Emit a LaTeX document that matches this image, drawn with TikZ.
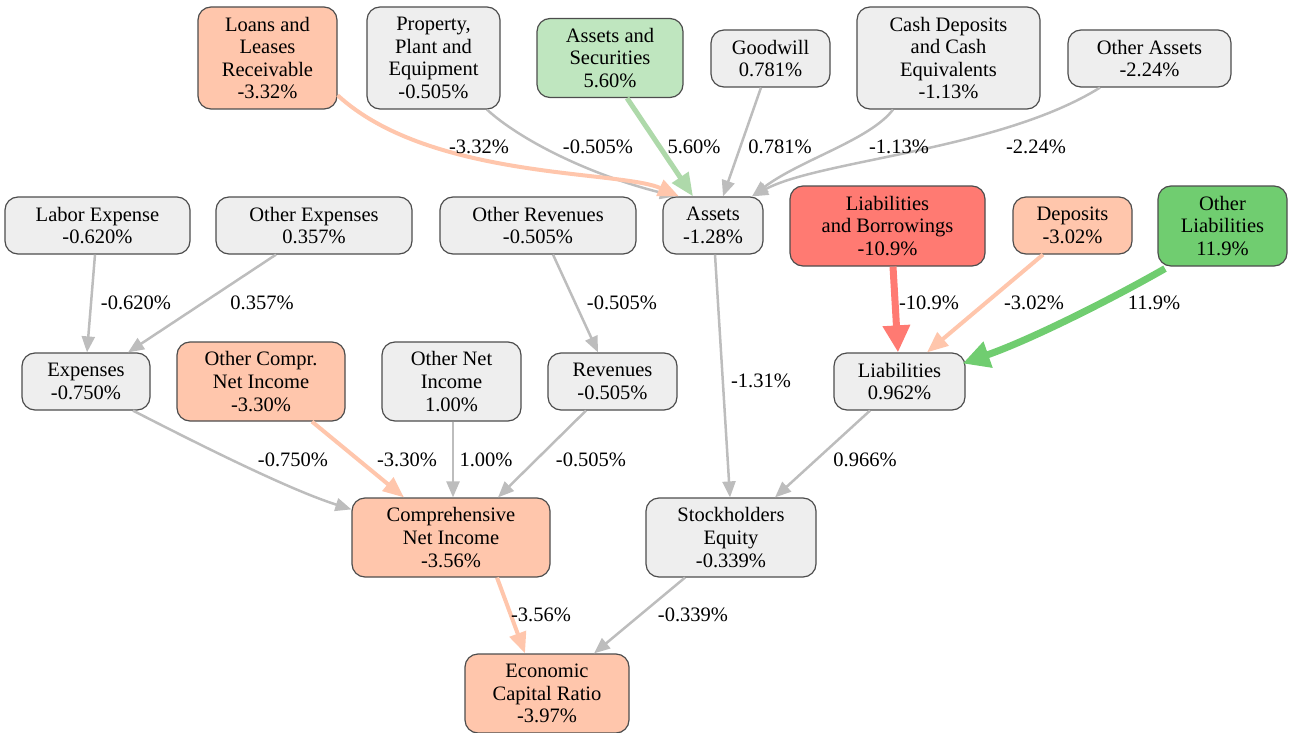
\documentclass[tikz,border=0pt]{standalone}
\usepackage{fontspec}
\setmainfont{Liberation Serif}
\usetikzlibrary{arrows.meta}
\definecolor{boxgray}{HTML}{EEEEEE}
\definecolor{bordercol}{HTML}{4D4D4D}
\definecolor{salmon}{HTML}{FFC6AC}
\definecolor{redc}{HTML}{FF7A72}
\definecolor{lgreen}{HTML}{BFE6BF}
\definecolor{lgreenedge}{HTML}{AED9AA}
\definecolor{dgreen}{HTML}{70CD70}
\definecolor{edgegray}{HTML}{BDBDBD}
\begin{document}
\begin{tikzpicture}[x=1pt,y=-1pt,
  every node/.style={font=\fontsize{20.5pt}{22.6pt}\selectfont},
  box/.style={draw=bordercol, line width=1.2pt, rounded corners=13pt, fill=boxgray, align=center, inner sep=0pt},
  two/.style={minimum height=57pt},
  three/.style={minimum height=79pt},
  four/.style={minimum height=102pt},
  eg/.style={draw=edgegray, line width=2.5pt, -{Triangle[length=16pt,width=13pt]}},
  es/.style={draw=salmon, line width=4pt, -{Triangle[length=21pt,width=17pt]}},
  elg/.style={draw=lgreenedge, line width=5pt, -{Triangle[length=23pt,width=19pt]}},
  er/.style={draw=redc, line width=7pt, -{Triangle[length=27pt,width=26pt]}},
  edg/.style={draw=dgreen, line width=7pt, -{Triangle[length=27pt,width=26pt]}},
  lab/.style={inner sep=0pt}
]
\useasboundingbox (0,0) rectangle (1290,733);
% top row
\node[box, four, minimum width=139pt, fill=salmon] (loans) at (267.5,58) {Loans and\\Leases\\Receivable\\-3.32\%};
\node[box, four, minimum width=133pt] (ppe) at (433.5,58) {Property,\\Plant and\\Equipment\\-0.505\%};
\node[box, three, minimum width=146pt, fill=lgreen] (as) at (610,58) {Assets and\\Securities\\5.60\%};
\node[box, two, minimum width=119pt] (gw) at (770.5,58.5) {Goodwill\\0.781\%};
\node[box, four, minimum width=183pt] (cash) at (948.5,58) {Cash Deposits\\and Cash\\Equivalents\\-1.13\%};
\node[box, two, minimum width=163pt] (oa) at (1149.5,58.5) {Other Assets\\-2.24\%};
% second row
\node[box, two, minimum width=185pt] (labor) at (97.5,225.5) {Labor Expense\\-0.620\%};
\node[box, two, minimum width=196pt] (oexp) at (314,225.5) {Other Expenses\\0.357\%};
\node[box, two, minimum width=196pt] (orev) at (538,225.5) {Other Revenues\\-0.505\%};
\node[box, two, minimum width=100pt] (assets) at (713,225.5) {Assets\\-1.28\%};
\node[box, minimum height=80pt, minimum width=195pt, fill=redc] (lb) at (887.5,226) {Liabilities\\and Borrowings\\-10.9\%};
\node[box, two, minimum width=119pt, fill=salmon] (dep) at (1072.5,225.5) {Deposits\\-3.02\%};
\node[box, minimum height=80pt, minimum width=129pt, fill=dgreen] (ol) at (1222.5,226) {Other\\Liabilities\\11.9\%};
% third row
\node[box, two, minimum width=128pt] (exp) at (86,381.5) {Expenses\\-0.750\%};
\node[box, three, minimum width=168pt, fill=salmon] (ocni) at (261,381.5) {Other Compr.\\Net Income\\-3.30\%};
\node[box, three, minimum width=139pt] (oni) at (451.5,381.5) {Other Net\\Income\\1.00\%};
\node[box, two, minimum width=129pt] (rev) at (612.5,381.5) {Revenues\\-0.505\%};
\node[box, two, minimum width=131pt] (liab) at (899.5,381.5) {Liabilities\\0.962\%};
% fourth row
\node[box, three, minimum width=198pt, fill=salmon] (cni) at (451,537.5) {Comprehensive\\Net Income\\-3.56\%};
\node[box, three, minimum width=170pt] (se) at (731,537.5) {Stockholders\\Equity\\-0.339\%};
% fifth
\node[box, three, minimum width=164pt, fill=salmon] (ecr) at (547,693.5) {Economic\\Capital Ratio\\-3.97\%};

% edges into Assets
\draw[eg] ([xshift=53.5pt]ppe.south) .. controls (520,140) and (590,175) .. ([xshift=-37pt]assets.north);
\draw[es] (loans.-28) .. controls (430,180) and (620,170) .. ([xshift=-34pt]assets.north);
\draw[elg] ([xshift=17pt]as.south) -- ([xshift=-20pt]assets.north);
\draw[eg] ([xshift=-9.5pt]gw.south) -- ([xshift=10pt]assets.north);
\draw[eg] ([xshift=-55.5pt]cash.south) .. controls (870,140) and (800,160) .. ([xshift=39pt]assets.north);
\draw[eg] ([xshift=-49.5pt]oa.south) .. controls (1000,150) and (820,160) .. ([xshift=39pt]assets.north);
% second row to third
\draw[eg] ([xshift=-2.5pt]labor.south) -- ([xshift=1pt]exp.north);
\draw[eg] ([xshift=-38pt]oexp.south) -- ([xshift=42pt]exp.north);
\draw[eg] ([xshift=15pt]orev.south) -- ([xshift=-14.5pt]rev.north);
\draw[eg] ([xshift=2pt]assets.south) -- ([xshift=-1pt]se.north);
\draw[er] ([xshift=5.5pt]lb.south) -- ([xshift=-1.5pt]liab.north);
\draw[es] ([xshift=-29.5pt]dep.south) -- ([xshift=27.5pt]liab.north);
\draw[edg] ([xshift=-57.5pt,yshift=-2pt]ol.south) .. controls (1110,300) and (1030,340) .. ([xshift=-3pt,yshift=18pt]liab.east);
% third row to fourth
\draw[eg] ([xshift=47pt]exp.south) .. controls (200,445) and (290,490) .. ([yshift=-12pt]cni.north west);
\draw[es] ([xshift=51pt]ocni.south) -- ([xshift=-47pt]cni.north);
\draw[eg] ([xshift=1.5pt]oni.south) -- ([xshift=2pt]cni.north);
\draw[eg] ([xshift=-26.5pt]rev.south) -- ([xshift=47pt]cni.north);
\draw[eg] ([xshift=-29.5pt]liab.south) -- ([xshift=44pt]se.north);
% to ECR
\draw[es] ([xshift=46pt]cni.south) -- ([xshift=-22pt]ecr.north);
\draw[eg] ([xshift=-46pt]se.south) -- ([xshift=47pt]ecr.north);

% labels
\node[lab] (t1) at (479,147) {-3.32\%};
\node[lab] (t2) at (598,147) {-0.505\%};
\node[lab] (t3) at (694,147) {5.60\%};
\node[lab] (t4) at (780,147) {0.781\%};
\node[lab] (t5) at (899,147) {-1.13\%};
\node[lab] (t6) at (1036,147) {-2.24\%};
\node[lab] (t7) at (136,303) {-0.620\%};
\node[lab] (t8) at (262,303) {0.357\%};
\node[lab] (t9) at (622,303) {-0.505\%};
\node[lab] (t10) at (761,381) {-1.31\%};
\node[lab] (t11) at (929,303) {-10.9\%};
\node[lab] (t12) at (1034,303) {-3.02\%};
\node[lab] (t13) at (1154,303) {11.9\%};
\node[lab] (t14) at (293,460) {-0.750\%};
\node[lab] (t15) at (407,460) {-3.30\%};
\node[lab] (t16) at (486,460) {1.00\%};
\node[lab] (t17) at (591,460) {-0.505\%};
\node[lab] (t18) at (865,460) {0.966\%};
\node[lab] (t19) at (541,615) {-3.56\%};
\node[lab] (t20) at (693,615) {-0.339\%};
\end{tikzpicture}
\end{document}
